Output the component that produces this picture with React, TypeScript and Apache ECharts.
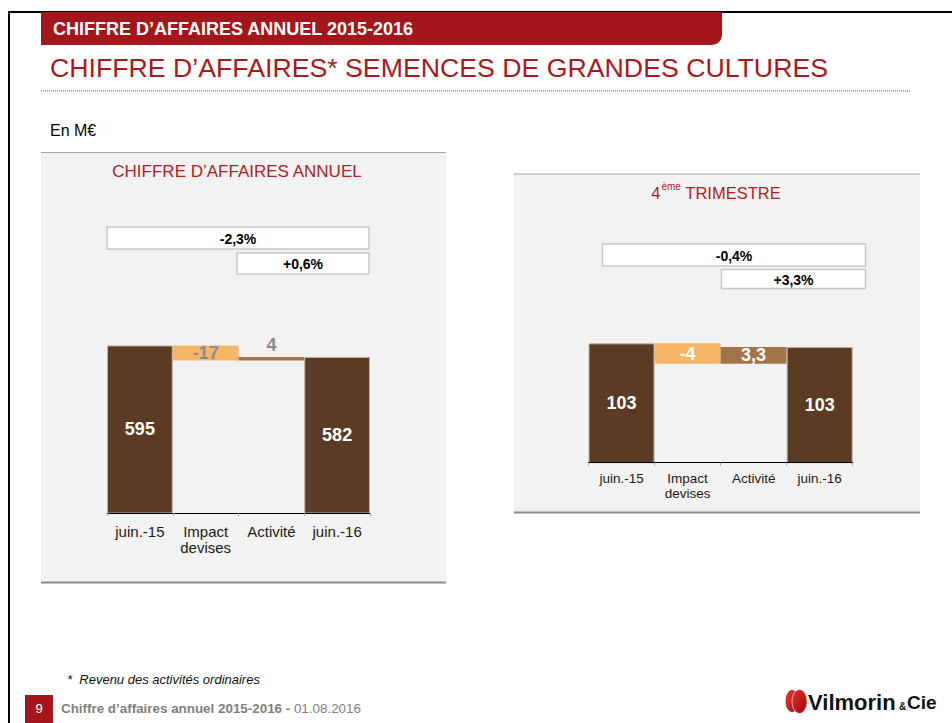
import React, { useEffect, useRef } from "react";
import * as echarts from "echarts";

// ---- data ----
const categories = ["juin.-15", "Impact\ndevises", "Activité", "juin.-16"];

const annualStart = 595;
const annualDeltas = [-17, 4];
const annualEnd = 582;
const annualVariations = ["-2,3%", "+0,6%"];

const q4Start = 103.4;
const q4Deltas = [-4, 3.3];
const q4End = 102.7;
const q4Variations = ["-0,4%", "+3,3%"];

const FONT = "'Liberation Sans', Arial, Helvetica, sans-serif";
const DARK = "#5b3b24";
const ORANGE = "#f9b566";
const ACTIV = "#a3744b";
const RED = "#a3161a";
const barColors = [DARK, ORANGE, ACTIV, DARK];

function waterfall(start: number, deltas: number[], end: number) {
  const base: number[] = [0];
  const height: number[] = [start];
  const labels: number[] = [start];
  let running = start;
  for (const d of deltas) {
    const next = running + d;
    base.push(Math.min(running, next));
    height.push(Math.abs(d));
    labels.push(d);
    running = next;
  }
  base.push(0);
  height.push(end);
  labels.push(end);
  return { base, height, labels };
}

function fmt(v: number, isTotal: boolean) {
  if (isTotal) return String(Math.round(v));
  return String(v).replace(".", ",");
}

function buildSeries(idx: number, start: number, deltas: number[], end: number, deltaLabelColor: string, activityTop: boolean) {
  const w = waterfall(start, deltas, end);
  const n = w.height.length;
  return [
    {
      type: "bar",
      xAxisIndex: idx,
      yAxisIndex: idx,
      stack: "w" + idx,
      silent: true,
      barCategoryGap: "0%",
      z: 3,
      itemStyle: { color: "rgba(0,0,0,0)" },
      data: w.base,
    },
    {
      type: "bar",
      xAxisIndex: idx,
      yAxisIndex: idx,
      stack: "w" + idx,
      barCategoryGap: "0%",
      z: 3,
      data: w.height.map((h, k) => {
        const isTotal = k === 0 || k === n - 1;
        const top = !isTotal && activityTop && k === 2;
        return {
          value: h,
          itemStyle: {
            color: barColors[k],
            borderColor: isTotal ? "#bdb3aa" : barColors[k],
            borderWidth: isTotal ? 1 : 0,
          },
          label: {
            show: true,
            position: top ? "top" : "inside",
            distance: 3,
            formatter: fmt(w.labels[k], isTotal),
            color: isTotal ? "#ffffff" : deltaLabelColor,
            fontFamily: FONT,
            fontWeight: "bold",
            fontSize: 18,
          },
        };
      }),
    },
  ];
}

function txt(x: number, y: number, text: string, font: string, fill: string, align = "left", z = 10) {
  return {
    type: "text",
    x,
    y,
    z,
    style: {
      text,
      font,
      fill,
      align,
      verticalAlign: "middle",
      textAlign: align,
      textVerticalAlign: "middle",
    },
  };
}

function box(x: number, y: number, w: number, h: number, label: string) {
  return [
    {
      type: "rect",
      z: 5,
      shape: { x, y, width: w, height: h },
      style: { fill: "#ffffff", stroke: "#c8c8c8", lineWidth: 1.5 },
    },
    txt(x + w / 2, y + h / 2 + 0.5, label, `bold 14px ${FONT}`, "#000000", "center", 6),
  ];
}

export default function App() {
  const ref = useRef<HTMLDivElement>(null);

  useEffect(() => {
    if (!ref.current) return;
    const chart = echarts.init(ref.current, null, { renderer: "svg" });

    const xAxisBase = (gridIndex: number, fontSize: number, lineHeight: number, margin: number) => ({
      type: "category",
      gridIndex,
      data: categories,
      z: 4,
      axisLine: { show: true, lineStyle: { color: "#000000", width: 1 } },
      axisTick: { show: true, length: 3, lineStyle: { color: "#a6a6a6" } },
      axisLabel: {
        color: "#1a1a1a",
        fontFamily: FONT,
        fontSize,
        lineHeight,
        margin,
        interval: 0,
      },
      splitLine: { show: false },
    });

    const option = {
      animation: false,
      backgroundColor: "#ffffff",
      grid: [
        { left: 107, top: 319, width: 263, height: 194 },
        { left: 588.5, top: 309.7, width: 264.2, height: 153 },
      ],
      xAxis: [xAxisBase(0, 15, 16, 10), xAxisBase(1, 13.5, 14.5, 9)],
      yAxis: [
        { type: "value", gridIndex: 0, min: 405, max: 625, show: false, splitLine: { show: false } },
        { type: "value", gridIndex: 1, min: 80, max: 110, show: false, splitLine: { show: false } },
      ],
      series: [
        ...buildSeries(0, annualStart, annualDeltas, annualEnd, "#8c8c8c", true),
        ...buildSeries(1, q4Start, q4Deltas, q4End, "#ffffff", false),
      ],
      graphic: [
        // page frame
        { type: "line", z: 1, shape: { x1: 8, y1: 12, x2: 952, y2: 12 }, style: { stroke: "#000", lineWidth: 2 } },
        { type: "line", z: 1, shape: { x1: 9, y1: 11, x2: 9, y2: 723 }, style: { stroke: "#000", lineWidth: 2 } },
        // header bar
        { type: "rect", z: 2, shape: { x: 41, y: 12, width: 681, height: 33, r: [0, 0, 10, 0] }, style: { fill: RED } },
        txt(53, 29, "CHIFFRE D’AFFAIRES ANNUEL 2015-2016", `bold 18px ${FONT}`, "#ffffff"),
        txt(50, 68, "CHIFFRE D’AFFAIRES* SEMENCES DE GRANDES CULTURES", `26.7px ${FONT}`, "#a8191d"),
        { type: "line", z: 1, shape: { x1: 41, y1: 91, x2: 910, y2: 91 }, style: { stroke: "#555", lineWidth: 1, lineDash: [1, 1] } },
        txt(50, 130, "En M€", `16px ${FONT}`, "#000000"),
        // left panel
        { type: "rect", z: 0, shape: { x: 41, y: 152, width: 405, height: 430 }, style: { fill: "#f2f2f2" } },
        { type: "line", z: 1, shape: { x1: 41, y1: 152.5, x2: 446, y2: 152.5 }, style: { stroke: "#a6a6a6", lineWidth: 1 } },
        { type: "line", z: 1, shape: { x1: 41, y1: 582.5, x2: 446, y2: 582.5 }, style: { stroke: "#8c8c8c", lineWidth: 2 } },
        txt(237, 171, "CHIFFRE D’AFFAIRES ANNUEL", `17px ${FONT}`, "#b01e22", "center"),
        ...box(107, 227, 262, 22, annualVariations[0]),
        ...box(237, 253, 132, 21, annualVariations[1]),
        // right panel
        { type: "rect", z: 0, shape: { x: 514, y: 174, width: 406, height: 338 }, style: { fill: "#f2f2f2" } },
        { type: "line", z: 1, shape: { x1: 514, y1: 174, x2: 920, y2: 174 }, style: { stroke: "#a6a6a6", lineWidth: 1 } },
        { type: "line", z: 1, shape: { x1: 514, y1: 512.5, x2: 920, y2: 512.5 }, style: { stroke: "#8c8c8c", lineWidth: 2 } },
        {
          type: "text",
          x: 716,
          y: 191,
          z: 10,
          style: {
            text: "{n|4}{s|ème}{n| TRIMESTRE}",
            align: "center",
            verticalAlign: "middle",
            textAlign: "center",
            textVerticalAlign: "middle",
            rich: {
              n: { fontFamily: FONT, fontSize: 16.5, fill: "#b01e22", color: "#b01e22", lineHeight: 20, verticalAlign: "bottom" },
              s: { fontFamily: FONT, fontSize: 10, fill: "#b01e22", color: "#b01e22", lineHeight: 20, verticalAlign: "top", padding: [0, 0, 8, 1] },
            },
          },
        },
        ...box(602.5, 244, 263, 22, q4Variations[0]),
        ...box(721.5, 269.5, 144, 19, q4Variations[1]),
        // footnote
        txt(67, 679, "*  Revenu des activités ordinaires", `italic 13px ${FONT}`, "#111111"),
        // footer
        { type: "rect", z: 2, shape: { x: 25, y: 695, width: 28, height: 28 }, style: { fill: RED } },
        txt(39, 708, "9", `13px ${FONT}`, "#ffffff", "center"),
        {
          type: "text",
          x: 61,
          y: 708,
          z: 10,
          style: {
            text: "{b|Chiffre d’affaires annuel 2015-2016 - }{r|01.08.2016}",
            align: "left",
            verticalAlign: "middle",
            textAlign: "left",
            textVerticalAlign: "middle",
            rich: {
              b: { fontFamily: FONT, fontSize: 13.4, fontWeight: "bold", fill: "#808080", color: "#808080" },
              r: { fontFamily: FONT, fontSize: 13.4, fill: "#808080", color: "#808080" },
            },
          },
        },
        // logo
        {
          type: "ellipse",
          z: 10,
          shape: { cx: 792, cy: 701, rx: 6.5, ry: 11 },
          style: {
            fill: { type: "linear", x: 0, y: 0, x2: 1, y2: 1, colorStops: [{ offset: 0, color: "#f03a3a" }, { offset: 1, color: "#a00a0a" }] },
          },
        },
        {
          type: "ellipse",
          z: 11,
          shape: { cx: 799.5, cy: 701.5, rx: 7.5, ry: 12 },
          style: {
            fill: { type: "linear", x: 0, y: 0, x2: 1, y2: 1, colorStops: [{ offset: 0, color: "#e83030" }, { offset: 1, color: "#9a0808" }] },
            stroke: "#ffffff",
            lineWidth: 0.6,
          },
        },
        txt(808, 702, "Vilmorin", `bold 22px ${FONT}`, "#111111"),
        txt(899, 706, "&", `bold 10px ${FONT}`, "#111111"),
        txt(907, 702, "Cie", `bold 19px ${FONT}`, "#111111"),
      ],
    };

    chart.setOption(option as any);
    return () => chart.dispose();
  }, []);

  return (
    <div
      ref={ref}
      style={{ position: "fixed", left: 0, top: 0, width: 952, height: 723, background: "#fff" }}
    />
  );
}
